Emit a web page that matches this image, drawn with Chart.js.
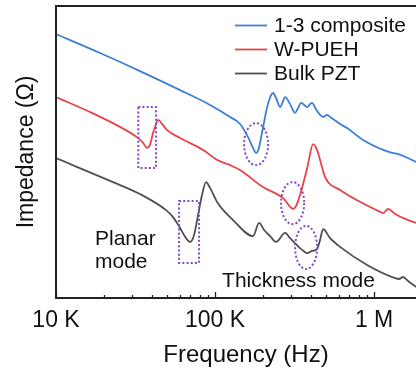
<!DOCTYPE html>
<html>
<head>
<meta charset="utf-8">
<script src="https://cdn.jsdelivr.net/npm/chart.js@4.4.1/dist/chart.umd.min.js"></script>
<style>
  html, body { margin: 0; padding: 0; background: #fff; overflow: hidden; }
  /* the original figure is cropped on the right, so the plot runs past the window edge */
  #wrap { width: 436px; height: 373px; }
</style>
</head>
<body>
<div id="wrap"><canvas id="impChart"></canvas></div>
<script>
// Frequency (Hz) and relative impedance (arbitrary log units)
const compositeFreq = [10000, 18930, 33730, 60260, 93040, 124200, 143600, 161300, 170900, 181200, 187000, 200000, 212000, 225000, 231700, 242000, 256500, 268000, 275600, 296400, 318600, 332900, 347800, 363400, 379700, 395700, 407400, 430000, 457400, 477900, 506000, 528800, 611100, 676100, 852800, 1140000, 1297000, 1416000, 1500000, 1836000];
const compositeZ = [90.4, 83.9, 77.7, 71.2, 66.1, 62.0, 59.6, 55.1, 52.1, 49.7, 50.7, 58.2, 65.1, 69.5, 70.2, 68.5, 65.4, 67.5, 68.8, 66.4, 63.4, 65.1, 66.8, 66.1, 65.4, 66.4, 66.8, 64.7, 62.7, 62.0, 62.7, 62.0, 59.6, 58.2, 54.1, 50.7, 49.7, 49.3, 48.8, 46.6];

const pwuehFreq = [10000, 16800, 25260, 32270, 35000, 37350, 39000, 40740, 42560, 43840, 46460, 49930, 60260, 84140, 102950, 124200, 143600, 200000, 268000, 309700, 325000, 347800, 379700, 413500, 438200, 457400, 492100, 611100, 800000, 1091000, 1140000, 1225000, 1355000, 1567000, 1836000];
const pwuehZ = [68.8, 63.4, 58.6, 55.1, 53.4, 51.4, 52.5, 56.5, 59.5, 61.0, 59.6, 57.5, 54.8, 50.7, 47.3, 45.5, 43.8, 38.0, 34.2, 30.5, 31.8, 36.6, 44.5, 52.7, 50.7, 47.3, 41.4, 37.0, 33.2, 29.5, 29.1, 30.5, 28.8, 27.1, 25.7];

const bulkFreq = [10000, 22800, 33730, 49200, 54450, 60260, 65700, 69650, 73800, 78200, 82800, 87770, 93040, 102950, 129700, 173400, 189200, 203400, 221800, 242000, 275600, 296400, 342500, 379700, 407400, 438200, 457400, 477900, 528800, 611100, 903600, 1355000, 1436000, 1521000, 1636000, 1836000];
const bulkZ = [47.9, 39.7, 35.6, 30.1, 27.7, 24.0, 20.5, 19.2, 21.6, 28.4, 35.3, 39.7, 37.7, 32.9, 26.7, 21.2, 25.7, 23.3, 21.2, 19.2, 22.3, 20.5, 17.1, 15.4, 16.1, 16.8, 19.9, 23.6, 20.5, 17.5, 11.3, 6.8, 6.5, 7.2, 5.8, 3.8];

const seriesNames = ["1-3 composite", "W-PUEH", "Bulk PZT"];
const seriesColors = ["#3d7fd6", "#e8424a", "#505050"];

const xTicks = [10000, 20000, 30000, 40000, 50000, 60000, 70000, 80000, 90000, 100000, 200000, 300000, 400000, 500000, 600000, 700000, 800000, 900000, 1000000, 2000000];
const xTickLabels = { 10000: "10 K", 100000: "100 K", 1000000: "1 M" };

// dotted markers around the resonance dips: [fMin, fMax, zMin, zMax]
const markRects = [[32900, 42560, 44.5, 65.4], [59370, 79310, 12.0, 33.2]];
const markEllipses = [[152200, 215500, 45.5, 59.9], [260000, 363400, 25.3, 39.7], [318600, 438200, 9.9, 24.7]];
const notes = [
  { text: "Planar", f: 17580, z: 20.2 },
  { text: "mode", f: 17580, z: 12.3 },
  { text: "Thickness mode", f: 110700, z: 5.8 }
];

const FONT = "Arial, 'Liberation Sans', Helvetica, sans-serif";

function pairs(fs, zs) {
  return fs.map((f, i) => ({ x: f, y: zs[i] }));
}

const figurePlugin = {
  id: "figureDecor",
  afterDatasetsDraw(chart) {
    const { ctx, chartArea: ca, scales } = chart;
    const xs = scales.x, ys = scales.y;
    ctx.save();

    // frame
    ctx.strokeStyle = "#222";
    ctx.lineWidth = 2;
    ctx.beginPath();
    ctx.moveTo(ca.right, ca.top);
    ctx.lineTo(ca.left, ca.top);
    ctx.lineTo(ca.left, ca.bottom);
    ctx.lineTo(ca.right, ca.bottom);
    ctx.stroke();

    // inward ticks on the frequency axis
    ctx.lineWidth = 1.3;
    ctx.beginPath();
    xs.ticks.forEach(t => {
      const px = Math.round(xs.getPixelForValue(t.value)) + 0.5;
      const len = xTickLabels[t.value] ? 6 : 3;
      ctx.moveTo(px, ca.bottom);
      ctx.lineTo(px, ca.bottom - len);
    });
    ctx.stroke();

    // dotted marks
    ctx.strokeStyle = "#8348cc";
    ctx.lineWidth = 2;
    ctx.setLineDash([2, 2.2]);
    markRects.forEach(r => {
      const x1 = xs.getPixelForValue(r[0]), x2 = xs.getPixelForValue(r[1]);
      const y1 = ys.getPixelForValue(r[3]), y2 = ys.getPixelForValue(r[2]);
      ctx.strokeRect(x1, y1, x2 - x1, y2 - y1);
    });
    markEllipses.forEach(e => {
      const x1 = xs.getPixelForValue(e[0]), x2 = xs.getPixelForValue(e[1]);
      const y1 = ys.getPixelForValue(e[3]), y2 = ys.getPixelForValue(e[2]);
      ctx.beginPath();
      ctx.ellipse((x1 + x2) / 2, (y1 + y2) / 2, (x2 - x1) / 2, (y2 - y1) / 2, 0, 0, Math.PI * 2);
      ctx.stroke();
    });
    ctx.setLineDash([]);

    // annotation text
    ctx.fillStyle = "#111";
    ctx.font = "21px " + FONT;
    ctx.textBaseline = "middle";
    ctx.textAlign = "left";
    notes.forEach(n => {
      ctx.fillText(n.text, xs.getPixelForValue(n.f), ys.getPixelForValue(n.z));
    });

    // legend, top right of the visible part
    seriesNames.forEach((name, i) => {
      const y = ca.top + 19.5 + i * 24;
      ctx.strokeStyle = seriesColors[i];
      ctx.lineWidth = 1.8;
      ctx.beginPath();
      ctx.moveTo(ca.right - 201, y);
      ctx.lineTo(ca.right - 169, y);
      ctx.stroke();
      ctx.fillStyle = "#111";
      ctx.fillText(name, ca.right - 162, y + 1);
    });

    ctx.restore();
  }
};

const ctx = document.getElementById("impChart").getContext("2d");

new Chart(ctx, {
  type: "line",
  data: {
    datasets: [
      { label: seriesNames[0], data: pairs(compositeFreq, compositeZ), borderColor: seriesColors[0] },
      { label: seriesNames[1], data: pairs(pwuehFreq, pwuehZ), borderColor: seriesColors[1] },
      { label: seriesNames[2], data: pairs(bulkFreq, bulkZ), borderColor: seriesColors[2] }
    ]
  },
  options: {
    responsive: true,
    maintainAspectRatio: false,
    animation: false,
    layout: { padding: { top: 6, right: 0, bottom: 0, left: 0 } },
    elements: {
      line: { borderWidth: 1.8, cubicInterpolationMode: "monotone", fill: false },
      point: { radius: 0 }
    },
    plugins: {
      legend: { display: false },
      tooltip: { enabled: false }
    },
    scales: {
      x: {
        type: "logarithmic",
        min: 10000,
        max: 2450000,
        afterBuildTicks: scale => {
          scale.ticks = xTicks.map(v => ({ value: v }));
        },
        ticks: {
          autoSkip: false,
          maxRotation: 0,
          padding: 9,
          color: "#111",
          font: { family: FONT, size: 23 },
          callback: value => xTickLabels[value] || ""
        },
        grid: { display: false, drawTicks: false },
        border: { display: false },
        title: {
          display: true,
          text: "Frequency (Hz)",
          color: "#111",
          font: { family: FONT, size: 24 },
          padding: { top: -3, bottom: 3.6 }
        }
      },
      y: {
        type: "linear",
        min: 0,
        max: 100,
        ticks: { display: false },
        grid: { display: false, drawTicks: false },
        border: { display: false },
        title: {
          display: true,
          text: "Impedance (Ω)",
          color: "#111",
          font: { family: FONT, size: 23 },
          padding: { top: 13, bottom: 15.4 }
        }
      }
    }
  },
  plugins: [figurePlugin]
});
</script>
</body>
</html>
